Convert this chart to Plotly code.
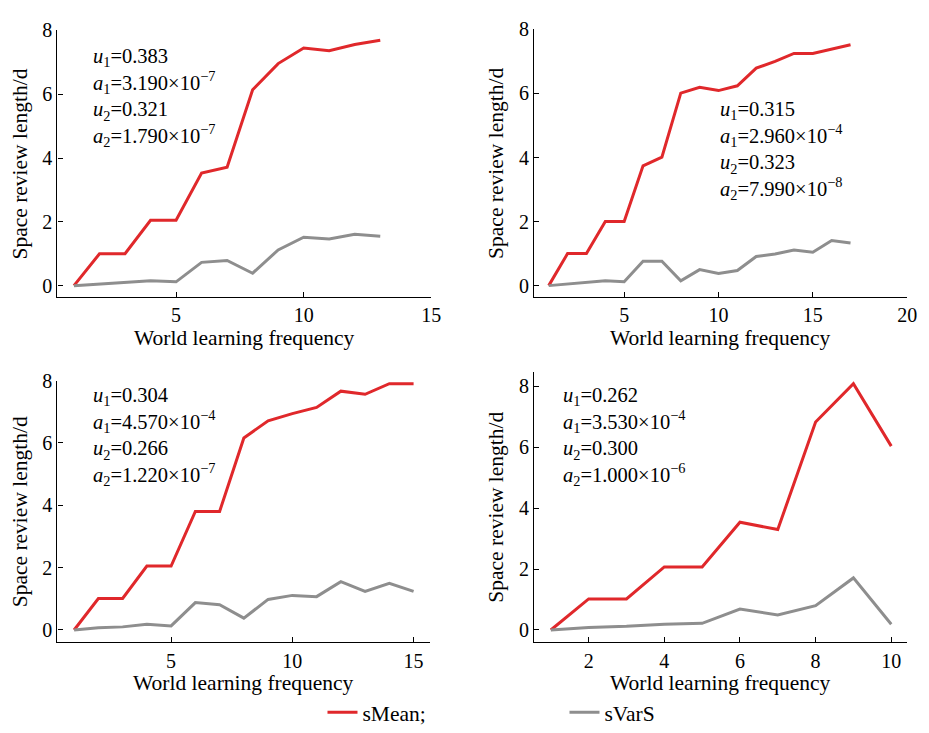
import plotly.graph_objects as go

W, H = 929, 733

# ---- data ----
x1 = list(range(1, 14))
mean1 = [0, 1.0, 1.0, 2.05, 2.05, 3.53, 3.71, 6.14, 6.96, 7.45, 7.36, 7.56, 7.69]
var1 = [0, 0.05, 0.08, 0.15, 0.12, 0.73, 0.79, 0.39, 1.12, 1.52, 1.46, 1.61, 1.55]

x2 = list(range(1, 18))
mean2 = [0, 1.0, 1.0, 2.0, 2.0, 3.74, 4.01, 6.01, 6.19, 6.09, 6.24, 6.79, 7.0, 7.25, 7.25, 7.39, 7.52]
var2 = [0, 0.05, 0.08, 0.15, 0.12, 0.76, 0.76, 0.15, 0.5, 0.38, 0.47, 0.91, 0.99, 1.11, 1.04, 1.41, 1.33]

x3 = list(range(1, 16))
mean3 = [0, 1.01, 1.01, 2.05, 2.05, 3.8, 3.8, 6.16, 6.71, 6.94, 7.14, 7.66, 7.56, 7.9, 7.9]
var3 = [0, 0.07, 0.1, 0.18, 0.13, 0.88, 0.81, 0.38, 0.98, 1.11, 1.07, 1.55, 1.24, 1.5, 1.24]

x4 = list(range(1, 11))
mean4 = [0, 1.02, 1.02, 2.07, 2.07, 3.54, 3.3, 6.83, 8.09, 6.04]
var4 = [0, 0.08, 0.12, 0.19, 0.22, 0.69, 0.49, 0.8, 1.71, 0.19]

params = [
    ("0.383", "3.190", "−7", "0.321", "1.790", "−7"),
    ("0.315", "2.960", "−4", "0.323", "7.990", "−8"),
    ("0.304", "4.570", "−4", "0.266", "1.220", "−7"),
    ("0.262", "3.530", "−4", "0.300", "1.000", "−6"),
]

series_names = ["sMean;", "sVarS"]
x_title = "World learning frequency"
y_title = "Space review length/d"

RED = "#e0282b"
GRAY = "#8e8e8e"
FONT = "Liberation Serif, Times New Roman, serif"

# pixel boxes of panels: (left, right, top, bottom)
boxes = [(58, 436, 20, 295), (540, 917, 19, 295), (58, 435, 381, 651), (540, 917, 372, 651)]
xranges = [[0.35, 15], [0.23, 20], [0.31, 15.69], [0.56, 10.42]]
yranges = [[-0.36, 8], [-0.36, 8], [-0.4, 8], [-0.41, 8.48]]
dticks = [5, 5, 5, 2]
# annotation positions (left px, center y px)
ann_pos = [(92, 89), (726, 144), (92, 439), (567, 439)]

data = [(x1, mean1, var1), (x2, mean2, var2), (x3, mean3, var3), (x4, mean4, var4)]

fig = go.Figure()
annotations = []
for i, ((xs, m, v), (l, r, t, b)) in enumerate(zip(data, boxes)):
    ax = "" if i == 0 else str(i + 1)
    fig.add_trace(go.Scatter(x=xs, y=m, mode="lines", name=series_names[0],
                             line=dict(color=RED, width=3), showlegend=(i == 0),
                             xaxis="x" + ax, yaxis="y" + ax))
    fig.add_trace(go.Scatter(x=xs, y=v, mode="lines", name=series_names[1],
                             line=dict(color=GRAY, width=3), showlegend=(i == 0),
                             xaxis="x" + ax, yaxis="y" + ax))
    axstyle = dict(showgrid=False, zeroline=False, showline=True, linecolor="black",
                   linewidth=1.3, ticks="inside", ticklen=5, tickcolor="black",
                   tickfont=dict(family=FONT, size=20, color="black"))
    fig.layout["xaxis" + ax] = dict(domain=[l / W, r / W], range=xranges[i], dtick=dticks[i],
                                    tick0=0, anchor="y" + ax, **axstyle)
    fig.layout["yaxis" + ax] = dict(domain=[1 - b / H, 1 - t / H], range=yranges[i], dtick=2,
                                    tick0=0, anchor="x" + ax, **axstyle)
    u1, a1, e1, u2, a2, e2 = params[i]
    txt = (f"<i>u</i><sub>1</sub>={u1}<br>"
           f"<i>a</i><sub>1</sub>={a1}×10<sup>{e1}</sup><br>"
           f"<i>u</i><sub>2</sub>={u2}<br>"
           f"<i>a</i><sub>2</sub>={a2}×10<sup>{e2}</sup>")
    px, py = ann_pos[i]
    annotations.append(dict(text=txt, x=px / W, y=1 - py / H, xref="paper", yref="paper",
                            xanchor="left", yanchor="middle", align="left", showarrow=False,
                            font=dict(family=FONT, size=20.5, color="black")))
    # axis titles
    annotations.append(dict(text=x_title, x=(l + r) / 2 / W, y=1 - (b + 42) / H,
                            xref="paper", yref="paper", xanchor="center", yanchor="middle",
                            showarrow=False, font=dict(family=FONT, size=21.5, color="black")))
    annotations.append(dict(text=y_title, x=(l - 38) / W, y=1 - (t + b) / 2 / H, textangle=-90,
                            xref="paper", yref="paper", xanchor="center", yanchor="middle",
                            showarrow=False, font=dict(family=FONT, size=21.5, color="black")))

fig.update_layout(
    width=W, height=H, margin=dict(l=0, r=0, t=0, b=0),
    plot_bgcolor="white", paper_bgcolor="white",
    annotations=annotations,
    showlegend=True,
    legend=dict(orientation="h", x=326 / W, y=1 - 723 / H, xanchor="left", yanchor="middle",
                font=dict(family=FONT, size=21.5, color="black"), entrywidth=197,
                bgcolor="rgba(0,0,0,0)"),
)

fig.write_html("out.html")
